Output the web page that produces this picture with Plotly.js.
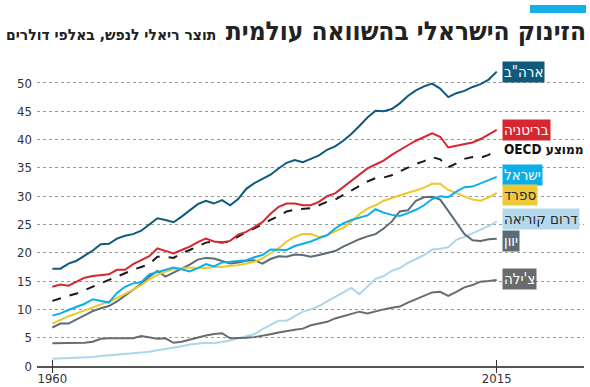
<!DOCTYPE html>
<html>
<head>
<meta charset="utf-8">
<script src="https://cdn.plot.ly/plotly-3.0.1.min.js"></script>
<style>
html,body{margin:0;padding:0;background:#fff;}
#chart{width:590px;height:387px;}
</style>
</head>
<body>
<div id="chart"></div>
<script>
// ---- data (GDP per capita, thousands of dollars) ----
const years = [];
for (let y = 1960; y <= 2015; y++) years.push(y);

const usa = [17.2,17.2,18.1,18.6,19.5,20.4,21.5,21.6,22.5,23.0,23.3,23.9,25.0,26.1,25.8,25.4,26.4,27.5,28.6,29.2,28.7,29.3,28.4,29.5,31.3,32.3,33.0,33.8,34.9,35.9,36.4,36.0,36.6,37.2,38.2,38.8,39.8,41.0,42.4,43.9,45.1,45.0,45.4,46.4,47.7,48.7,49.4,49.9,49.0,47.5,48.2,48.6,49.3,49.8,50.6,52.0];
const uk = [14.0,14.4,14.2,14.9,15.6,15.9,16.1,16.2,17.0,17.0,18.0,18.7,19.4,20.8,20.4,19.9,20.5,21.1,21.9,22.5,22.0,21.8,22.1,23.2,23.7,24.6,25.4,26.9,28.1,28.7,28.7,28.4,28.4,29.0,30.0,30.5,31.6,32.8,33.8,34.9,35.6,36.3,37.3,38.2,39.0,39.8,40.5,41.1,40.5,38.6,38.9,39.2,39.5,40.1,40.9,41.7];
const oecd = [11.5,12.0,12.4,12.8,13.4,14.0,14.6,15.2,15.8,16.5,17.0,17.5,18.0,19.3,19.3,19.1,19.9,20.5,21.1,21.8,22.0,21.8,22.0,22.8,23.7,24.3,25.1,25.8,26.5,27.3,27.6,27.7,27.9,28.4,29.0,29.4,30.2,31.0,31.9,32.6,33.2,33.3,33.7,34.4,35.1,35.7,36.2,36.9,36.5,35.1,35.8,36.6,36.9,36.8,37.3,38.2];
const israel = [8.9,9.3,9.9,10.5,11.0,11.8,11.5,11.2,12.9,14.0,14.6,14.8,16.2,16.6,17.1,17.4,17.1,16.7,17.3,18.0,17.6,18.3,18.4,18.5,18.7,19.2,19.6,20.6,20.6,20.5,21.2,21.6,22.0,22.6,23.1,24.3,25.2,25.8,26.2,26.6,27.7,27.1,26.7,26.5,27.0,27.6,28.4,29.5,30.0,29.8,30.8,31.6,31.7,32.3,32.9,33.4];
const spain = [7.5,8.2,8.8,9.3,9.8,10.3,10.8,11.4,12.0,12.7,13.5,14.3,15.3,16.1,16.7,17.1,17.3,17.4,17.3,17.3,17.5,17.5,17.7,17.8,18.1,18.4,19.0,19.9,20.8,22.0,22.8,23.3,23.3,22.8,23.1,23.8,24.4,25.5,26.8,27.8,28.4,29.2,29.7,30.2,30.6,31.0,31.5,32.2,32.2,31.1,30.5,29.9,29.4,29.2,29.8,30.6];
const korea = [1.3,1.35,1.4,1.5,1.55,1.6,1.75,1.85,2.0,2.15,2.25,2.4,2.5,2.8,3.0,3.2,3.5,3.8,4.0,4.1,4.0,4.2,4.5,4.9,5.2,5.6,6.5,7.3,8.0,8.0,8.8,9.6,10.0,10.6,11.4,12.2,13.0,13.8,12.7,14.1,15.4,15.9,16.8,17.3,18.2,18.9,19.6,20.6,20.7,21.0,22.3,22.8,23.4,24.0,24.7,25.5];
const greece = [6.8,7.5,7.5,8.2,9.0,9.7,10.2,10.6,11.4,12.4,13.4,14.5,15.8,16.8,15.8,16.5,17.3,17.9,18.8,19.1,19.0,18.6,18.1,18.3,18.6,18.7,18.1,18.9,19.4,19.3,19.7,19.6,19.3,19.6,19.9,20.3,21.1,21.8,22.4,22.9,23.3,24.3,25.5,27.3,27.5,29.2,29.8,29.9,29.4,27.4,25.3,23.3,22.2,22.1,22.4,22.5];
const chile = [4.0,4.0,4.0,4.05,4.1,4.3,4.8,4.9,4.9,4.9,4.9,5.3,5.1,4.8,4.9,4.1,4.3,4.7,5.1,5.4,5.65,5.8,4.9,4.9,5.0,5.1,5.3,5.6,5.9,6.2,6.4,6.6,7.2,7.5,7.8,8.4,8.8,9.2,9.6,9.3,9.7,10.0,10.3,10.5,11.2,11.8,12.4,13.0,13.1,12.4,13.1,13.9,14.3,14.9,15.0,15.2];

const seriesNames = ["ארה\"ב","בריטניה","ממוצע OECD","ישראל","ספרד","דרום קוריאה","יוון","צ'ילה"];
const seriesValues = [usa, uk, oecd, israel, spain, korea, greece, chile];

const xTickVals = [1960, 2015];
const xTickText = ["1960", "2015"];
const yTickVals = [0,5,10,15,20,25,30,35,40,45,50];

const titleText = "הזינוק הישראלי בהשוואה עולמית";
const subtitleText = "תוצר ריאלי לנפש, באלפי דולרים";

// ---- styles ----
const lineColors = ["#0d5a7d","#d6262e","#1a1a1a","#0aaeea","#efc62c","#aed6ea","#5a6c77","#6a6b6d"];
const boxColors  = ["#0d5a7d","#d6262e","rgba(0,0,0,0)","#0aaeea","#efc93a","#b5d9ec","#5a6c77","#6a6b6d"];
const textColors = ["#ffffff","#ffffff","#111111","#ffffff","#2a2a2a","#2a2a2a","#ffffff","#ffffff"];
const labelSizes = [15,15,13.5,15,15,15,15,15];
const labelShift = [0,0,1,2,-2.5,2.5,-2,1];
const dashes = ["solid","solid","dash","solid","solid","solid","solid","solid"];
const drawOrder = [5,7,6,4,3,2,1,0];

const hebFont = "DejaVu Sans Condensed, DejaVu Sans, sans-serif";
const numFont = "Liberation Sans Narrow, DejaVu Sans Condensed, sans-serif";

const traces = drawOrder.map(i => ({
  type: "scatter", mode: "lines",
  x: years, y: seriesValues[i], name: seriesNames[i],
  line: {color: lineColors[i], width: 2, dash: dashes[i]},
  hoverinfo: "skip", showlegend: false,
  xaxis: "x", yaxis: "y"
}));
// empty helper traces so the tick-mark axes are drawn
traces.push({type:"scatter", mode:"lines", x:[xTickVals[0]], y:[null], xaxis:"x2", yaxis:"y", showlegend:false, hoverinfo:"skip"});
traces.push({type:"scatter", mode:"lines", x:[xTickVals[0]], y:[null], xaxis:"x3", yaxis:"y", showlegend:false, hoverinfo:"skip"});

const annotations = seriesNames.map((nm, i) => {
  const txt = (i === 2) ? "\u202B" + nm + "\u202C" : nm;
  return {
    x: years[years.length - 1], y: seriesValues[i][seriesValues[i].length - 1],
    xref: "x", yref: "y", xanchor: "left", yanchor: "middle",
    xshift: 5, yshift: labelShift[i], text: txt, showarrow: false,
    bgcolor: boxColors[i], borderpad: 1,
    font: {family: hebFont, size: labelSizes[i], color: textColors[i], weight: (i === 2 ? "bold" : "normal")}
  };
});
annotations.push({
  xref: "paper", yref: "paper", x: 0.331, y: 1.083, xanchor: "right", yanchor: "middle",
  text: subtitleText, showarrow: false,
  font: {family: hebFont, size: 15.5, color: "#222", weight: "bold"}
});

const xr = [1958.1, 2025.8];
const layout = {
  width: 590, height: 387,
  margin: {l: 37, r: 6, t: 60, b: 21},
  paper_bgcolor: "#ffffff", plot_bgcolor: "#ffffff",
  title: {
    text: titleText, xref: "container", yref: "container",
    x: 586/590, xanchor: "right", y: 1 - 31/387, yanchor: "middle",
    font: {family: hebFont, size: 26, color: "#222", weight: "bold"}
  },
  xaxis: {
    range: xr, tickvals: xTickVals, ticktext: xTickText,
    showgrid: false, zeroline: false, showline: true, linecolor: "#555", linewidth: 1.5,
    ticks: "", ticklabelstandoff: 0,
    tickfont: {family: numFont, size: 13, color: "#333"}, fixedrange: true
  },
  xaxis2: {
    overlaying: "x", anchor: "y", side: "bottom",
    range: xr, tickvals: xTickVals, showticklabels: false,
    showgrid: false, zeroline: false, showline: false,
    ticks: "inside", ticklen: 6, tickwidth: 1.5, tickcolor: "#333"
  },
  xaxis3: {
    overlaying: "x", anchor: "y", side: "bottom",
    range: xr, tickvals: xTickVals, showticklabels: false,
    showgrid: false, zeroline: false, showline: false,
    ticks: "outside", ticklen: 6, tickwidth: 1.5, tickcolor: "#333"
  },
  yaxis: {
    range: [0, 54.06], tickvals: yTickVals,
    showgrid: true, gridcolor: "#9a9a9a", gridwidth: 1, griddash: "dot",
    zeroline: false, showline: false, ticks: "", ticklabelstandoff: 4,
    tickfont: {family: numFont, size: 13, color: "#333"}, fixedrange: true
  },
  shapes: [{
    type: "rect", xref: "paper", yref: "paper",
    x0: (530-37)/547, x1: (586-37)/547, y0: 1 + (60-13)/306, y1: 1 + (60-5)/306,
    fillcolor: "#14aee8", line: {width: 0}
  }],
  annotations: annotations
};

Plotly.newPlot("chart", traces, layout, {staticPlot: true, displayModeBar: false});
</script>
</body>
</html>
